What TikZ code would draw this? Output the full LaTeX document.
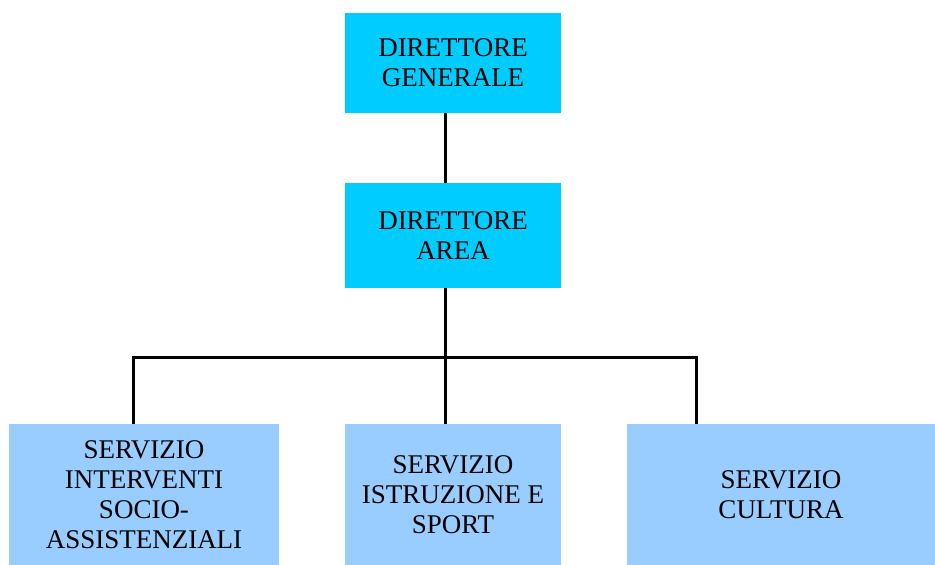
\documentclass[tikz,border=0pt]{standalone}
\usepackage{fontspec}
\setmainfont{Liberation Serif}
\definecolor{topblue}{HTML}{00CCFF}
\definecolor{lowblue}{HTML}{99CCFF}

\begin{document}
\begin{tikzpicture}[x=1pt,y=1pt,
    box/.style={inner sep=0pt,align=center,
      font=\fontsize{27}{30}\selectfont},
    head/.style={box,fill=topblue,minimum width=216pt},
    unit/.style={box,fill=lowblue,minimum height=141pt},
    link/.style={line width=3pt}]
  \useasboundingbox (0,0) rectangle (935,-565);
  % top of the chart
  \node[head,minimum height=100pt] (dg) at (453,-63) {DIRETTORE\\GENERALE};
  \node[head,minimum height=105pt] (da) at (453,-235.5) {DIRETTORE\\AREA};
  % services
  \node[unit,minimum width=270pt] (s1) at (144,-494.5)
    {SERVIZIO\\INTERVENTI\\SOCIO-\\ASSISTENZIALI};
  \node[unit,minimum width=216pt] (s2) at (453,-494.5)
    {SERVIZIO\\ISTRUZIONE E\\SPORT};
  \node[unit,minimum width=308pt] (s3) at (781,-494.5)
    {SERVIZIO\\CULTURA};
  % connectors
  \coordinate (bus) at (445,-357);
  \coordinate (busL) at (133,-357);
  \coordinate (busR) at (696,-357);
  \draw[link] (dg.south -| bus) -- (da.north -| bus);
  \draw[link] (da.south -| bus) -- (bus) -- (s2.north -| bus);
  \draw[link] (s1.north -| busL) -- (busL) -- (busR) -- (s3.north -| busR);
\end{tikzpicture}
\end{document}
